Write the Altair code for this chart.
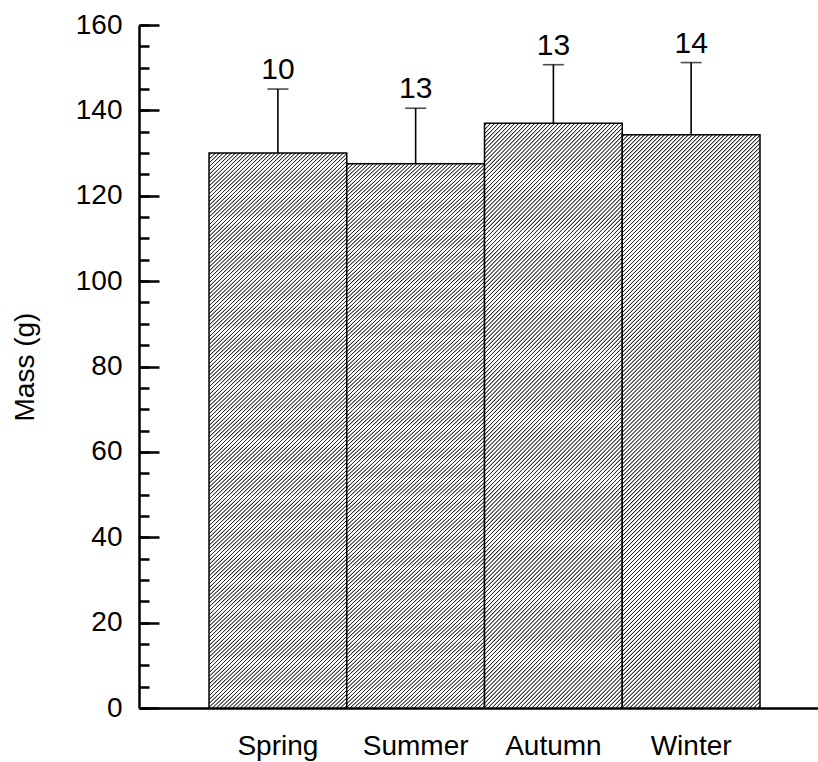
import altair as alt
import pandas as pd

# Seasonal body mass: mean, standard error and sample size per season
seasons = ["Spring", "Summer", "Autumn", "Winter"]
mean_mass = [130.0, 127.5, 137.0, 134.3]
se_mass = [15.0, 13.0, 13.7, 16.9]
sample_n = [10, 13, 13, 14]

df = pd.DataFrame({"season": seasons, "mass": mean_mass, "se": se_mass, "n": sample_n})

PLOT_W, PLOT_H = 679, 683
FONT = "Liberation Sans"


def hatch_fill(period_px=4.0, bar_w=137.75, bar_h=575.0, dark="#2a2a2a", light="#ffffff"):
    """Diagonal '/' hatching as a soft-edged striped linear gradient in bounding-box units."""
    norm = bar_w ** 2 + bar_h ** 2
    dt = bar_w * period_px / norm
    stops = []
    t = 0.0
    while t < 0.32:
        stops += [
            {"offset": round(t, 6), "color": light},
            {"offset": round(t + 0.34 * dt, 6), "color": light},
            {"offset": round(t + 0.52 * dt, 6), "color": dark},
            {"offset": round(t + 0.66 * dt, 6), "color": dark},
            {"offset": round(t + 0.84 * dt, 6), "color": light},
        ]
        t += dt
    return {"gradient": "linear", "x1": 0, "y1": 0, "x2": 1, "y2": bar_h / bar_w, "stops": stops}


y_scale = alt.Scale(domain=[0, 160], nice=False, zero=True)

base = alt.Chart(df).transform_calculate(top="datum.mass + datum.se").encode(
    x=alt.X(
        "season:N",
        sort=seasons,
        scale=alt.Scale(domain=seasons, paddingInner=0, paddingOuter=0.4647, align=0.547),
        axis=alt.Axis(
            title=None,
            ticks=False,
            labelAngle=0,
            labelPadding=24,
            domainWidth=2.5,
        ),
    )
)

# Left axis: labels, title and the axis line
label_axis = alt.Axis(
    title="Mass (g)",
    orient="left",
    values=list(range(0, 161, 20)),
    ticks=False,
    labelPadding=17,
    domainWidth=2.5,
    titleX=-106,
    titleY=PLOT_H / 2,
    titleAngle=-90,
    titleAlign="center",
    titleBaseline="alphabetic",
)

# Inward-pointing major and minor ticks drawn by right-oriented axes moved onto the left edge
major_tick_axis = alt.Axis(
    title=None,
    orient="right",
    offset=-PLOT_W,
    values=list(range(0, 161, 20)),
    labels=False,
    domain=False,
    tickSize=20,
    tickWidth=2.5,
)
minor_tick_axis = alt.Axis(
    title=None,
    orient="right",
    offset=-PLOT_W,
    values=list(range(0, 161, 5)),
    labels=False,
    domain=False,
    tickSize=10,
    tickWidth=2.5,
)

bars = base.mark_bar(fill=hatch_fill(), stroke="black", strokeWidth=1.5).encode(
    y=alt.Y("mass:Q", scale=y_scale, axis=label_axis)
)

err = base.mark_rule(color="black", strokeWidth=1.6).encode(
    y=alt.Y("mass:Q", scale=y_scale, axis=major_tick_axis),
    y2="top:Q",
)

caps = base.mark_tick(color="black", orient="horizontal", size=21, thickness=1.6).encode(
    y=alt.Y("top:Q", scale=y_scale, axis=minor_tick_axis)
)

n_labels = base.mark_text(
    dy=-10, baseline="alphabetic", align="center", fontSize=30, font=FONT, color="black"
).encode(
    y=alt.Y("top:Q", scale=y_scale, axis=None),
    text="n:Q",
)

chart = (
    alt.layer(bars, err, caps, n_labels)
    .resolve_axis(y="independent")
    .properties(
        width=PLOT_W,
        height=PLOT_H,
        autosize=alt.AutoSizeParams(type="none"),
        padding={"left": 139, "top": 25, "right": 0, "bottom": 53},
        background="white",
    )
    .configure_view(stroke=None)
    .configure_axis(
        grid=False,
        labelFont=FONT,
        labelFontSize=28,
        labelColor="black",
        titleFont=FONT,
        titleFontSize=28,
        titleFontWeight="normal",
        titleColor="black",
        domainColor="black",
        tickColor="black",
    )
)

chart.save("out.html", embed_options={"renderer": "svg", "actions": False})
